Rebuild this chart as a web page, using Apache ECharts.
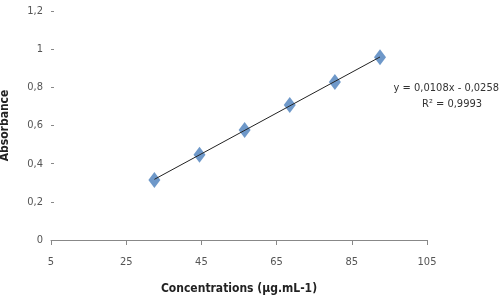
<!DOCTYPE html>
<html>
<head>
<meta charset="utf-8">
<script src="https://cdn.jsdelivr.net/npm/echarts@6/dist/echarts.min.js"></script>
<style>
  html, body { margin: 0; padding: 0; background: #fff; }
  #chart { width: 499px; height: 304px; }
</style>
</head>
<body>
<div id="chart"></div>
<script>
// calibration points
const concentrations = [32.5, 44.5, 56.5, 68.5, 80.5, 92.5]
const absorbances = [0.315, 0.447, 0.576, 0.707, 0.828, 0.958]
const xTicks = [5, 25, 45, 65, 85, 105]
const yTicks = [0, 0.2, 0.4, 0.6, 0.8, 1, 1.2]
const equationText = 'y = 0,0108x - 0,0258'
const r2Text = 'R² = 0,9993'

const FONT = '"Liberation Sans Narrow", "DejaVu Sans Condensed", sans-serif'

// least squares line through the points
function fit(xs, ys) {
  let n = xs.length, sx = 0, sy = 0, sxx = 0, sxy = 0
  for (let i = 0; i < n; i++) {
    sx += xs[i]; sy += ys[i]; sxx += xs[i] * xs[i]; sxy += xs[i] * ys[i]
  }
  let a = (n * sxy - sx * sy) / (n * sxx - sx * sx)
  let b = (sy - a * sx) / n
  return { a, b }
}
const line = fit(concentrations, absorbances)
const x0 = concentrations[0], x1 = concentrations[concentrations.length - 1]
const trend = [[x0, line.a * x0 + line.b], [x1, line.a * x1 + line.b]]

const fmt = v => String(v).replace('.', ',')

let chart = echarts.init(document.getElementById('chart'))
chart.setOption({
  animation: false,
  grid: { left: 51, right: 72, top: 11, bottom: 64, outerBoundsMode: 'none', containLabel: false },
  xAxis: {
    type: 'value', min: xTicks[0], max: xTicks[xTicks.length - 1], interval: 20,
    name: 'Concentrations (µg.mL-1)', nameLocation: 'middle', nameGap: 43,
    nameTextStyle: { fontFamily: FONT, fontSize: 12, fontWeight: 'bold', color: '#222' },
    axisLine: { show: true, lineStyle: { color: '#888', width: 1 } },
    axisTick: { show: true, length: 5, lineStyle: { color: '#888' } },
    axisLabel: { fontFamily: FONT, fontSize: 11, color: '#555', margin: 17 },
    splitLine: { show: false }
  },
  yAxis: {
    type: 'value', min: yTicks[0], max: yTicks[yTicks.length - 1], interval: 0.2,
    name: 'Absorbance', nameLocation: 'middle', nameGap: 40, nameRotate: 90,
    nameTextStyle: { fontFamily: FONT, fontSize: 12, fontWeight: 'bold', color: '#222' },
    axisLine: { show: false },
    axisTick: { show: true, inside: true, length: 3, lineStyle: { color: '#888' } },
    axisLabel: { fontFamily: FONT, fontSize: 11, color: '#555', margin: 8, formatter: fmt },
    splitLine: { show: false }
  },
  series: [
    {
      type: 'line', data: trend, symbol: 'none', silent: true,
      lineStyle: { color: '#222', width: 1 }, z: 3
    },
    {
      type: 'scatter', data: concentrations.map((c, i) => [c, absorbances[i]]),
      symbol: 'diamond', symbolSize: [12, 16],
      itemStyle: { color: '#4a7ebb' }, z: 2
    }
  ],
  graphic: [
    { type: 'text', right: 0, top: 83, style: { text: equationText, font: '11px ' + FONT, fill: '#333' } },
    { type: 'text', left: 422, top: 99, style: { text: r2Text, font: '11px ' + FONT, fill: '#333' } }
  ]
})
</script>
</body>
</html>
